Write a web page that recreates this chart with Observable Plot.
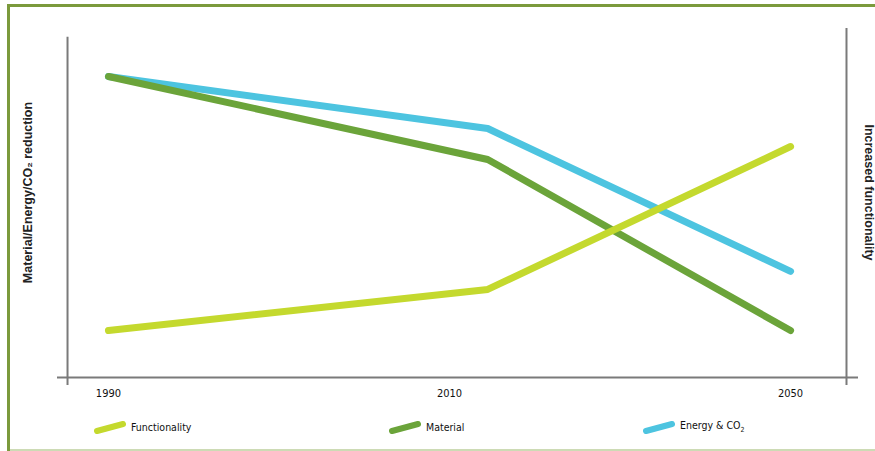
<!DOCTYPE html>
<html><head><meta charset="utf-8">
<script src="https://cdn.jsdelivr.net/npm/d3@7"></script>
<script src="https://cdn.jsdelivr.net/npm/@observablehq/plot@0.6"></script>
<style>
body{margin:0;background:#fff;}
#wrap{position:relative;width:875px;height:451px;overflow:hidden;background:#fff;font-family:"Liberation Sans Narrow","DejaVu Sans Condensed","Liberation Sans",Arial,sans-serif;}
#chart{position:absolute;left:0;top:0;}
.b{position:absolute;}
.item{position:absolute;top:412px;height:30px;display:flex;align-items:center;font-size:10.5px;color:#111;font-stretch:condensed;}
.item svg{margin-right:5px;}
</style></head><body>
<div id="wrap"><div id="chart"></div><div id="legend"></div>
<div class="b" style="left:7px;top:4px;width:868px;height:3px;background:#7b9a3c"></div>
<div class="b" style="left:7px;top:4px;width:3px;height:447px;background:#7b9a3c"></div>
<div class="b" style="left:10px;top:449px;width:865px;height:2px;background:#cddbb5"></div>
</div>
<script>
const seriesNames = ["Functionality", "Material", "Energy & CO₂"];
const seriesColors = ["#c4d92e", "#6ba43a", "#4dc4e0"];
const pointT = [0, 0.556, 1];
const functionality = [13.8, 25.9, 67.9];
const material = [88.5, 64.1, 13.8];
const energy = [88.5, 73.2, 31.2];
const tickT = [0, 0.5, 1];
const tickLabels = ["1990", "2010", "2050"];
const leftAxisLabel = "Material/Energy/CO₂ reduction";
const rightAxisLabel = "Increased functionality";

const values = [functionality, material, energy];
const rows = [];
// draw order: Energy, Material, Functionality
[2, 1, 0].forEach(s => pointT.forEach((t, i) => rows.push({series: seriesNames[s], t, v: values[s][i]})));

const labelFont = '"Liberation Sans",Arial,sans-serif';
const plot = Plot.plot({
  width: 875, height: 410,
  marginLeft: 57, marginRight: 17, marginTop: 28, marginBottom: 25,
  style: {fontFamily: '"Liberation Sans Narrow","DejaVu Sans Condensed","Liberation Sans",Arial,sans-serif', color: "#111", background: "transparent"},
  x: {domain: [-0.0747, 1.0996], axis: null, label: null},
  y: {domain: [-2.35, 102.6], axis: null, label: null},
  color: {domain: seriesNames, range: seriesColors},
  marks: [
    Plot.ruleY([0], {stroke: "#7a7a7a", strokeWidth: 2}),
    Plot.ruleX([-0.06], {y1: 100, y2: -2.35, stroke: "#7a7a7a", strokeWidth: 2}),
    Plot.ruleX([1.082], {y1: 102.6, y2: -2.35, stroke: "#7a7a7a", strokeWidth: 2}),
    Plot.line(rows, {x: "t", y: "v", z: "series", stroke: "series", strokeWidth: 7, strokeLinecap: "round", strokeLinejoin: "miter"}),
    Plot.axisX({ticks: tickT, tickFormat: (d, i) => tickLabels[i], tickSize: 0, tickPadding: 4, fontSize: 11, anchor: "bottom", label: null}),
    Plot.text([leftAxisLabel], {frameAnchor: "left", textAnchor: "middle", rotate: -90, dx: -30, dy: -14.5, fontSize: 12.5, fontWeight: "bold", fill: "#222", fontFamily: labelFont}),
    Plot.text([rightAxisLabel], {frameAnchor: "right", textAnchor: "middle", rotate: 90, dx: 10, dy: -14.5, fontSize: 12.5, fontWeight: "bold", fill: "#222", fontFamily: labelFont})
  ]
});
document.getElementById("chart").appendChild(plot);

const legendLeft = [94, 389, 643];
const wrap = document.getElementById("wrap");
seriesNames.forEach((name, i) => {
  const it = document.createElement("div");
  it.className = "item";
  it.style.left = legendLeft[i] + "px";
  it.innerHTML = `<svg width="32" height="14"><line x1="3" y1="11" x2="29" y2="4" stroke="${seriesColors[i]}" stroke-width="6" stroke-linecap="round"/></svg><span>${name.replace("CO₂", "CO<sub style='font-size:7px'>2</sub>")}</span>`;
  wrap.appendChild(it);
});
</script>
</body></html>
